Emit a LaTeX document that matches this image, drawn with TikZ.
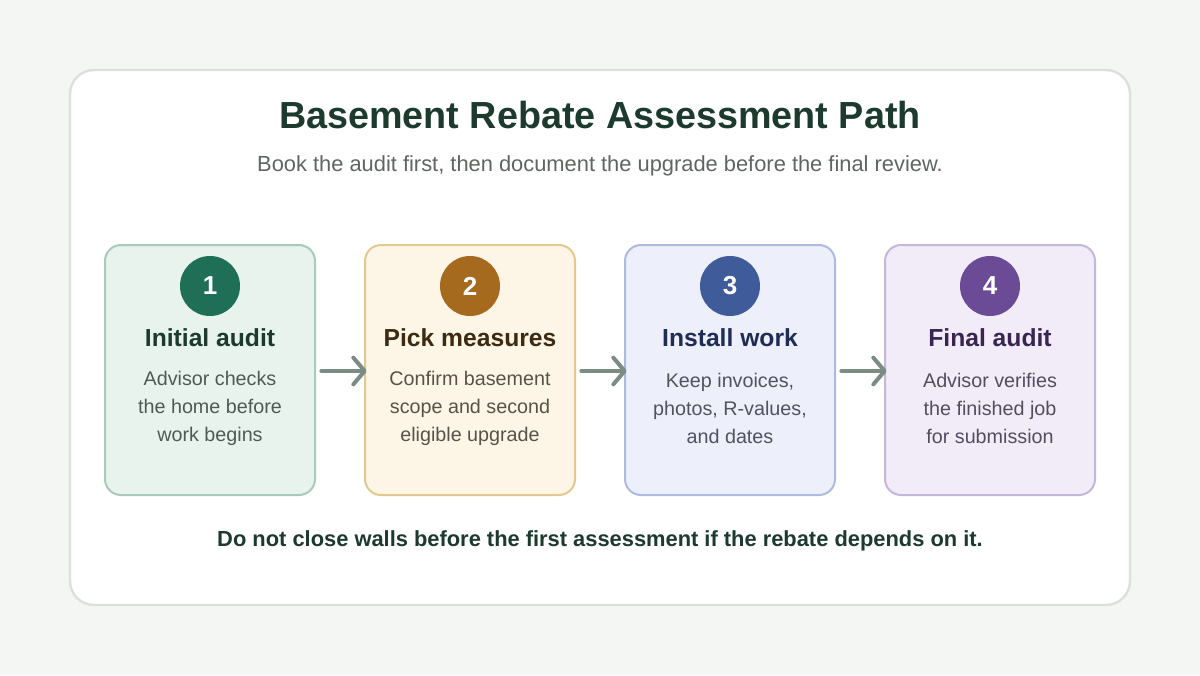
\documentclass[tikz,border=0pt]{standalone}
\usepackage{fontspec}
\setmainfont{Liberation Sans}
\usetikzlibrary{arrows.meta}
\definecolor{bgc}{HTML}{F4F6F3}
\definecolor{cardline}{HTML}{DCE0DA}
\definecolor{titlec}{HTML}{1D3A2F}
\definecolor{subc}{HTML}{5F6661}
\definecolor{arrc}{HTML}{7A8C84}
\definecolor{fA}{HTML}{E8F3EE}\definecolor{dA}{HTML}{A9C9BB}\definecolor{cA}{HTML}{1F6E56}\definecolor{tA}{HTML}{1D3A2F}\definecolor{xA}{HTML}{4F5A55}
\definecolor{fB}{HTML}{FDF5E6}\definecolor{dB}{HTML}{E3C98E}\definecolor{cB}{HTML}{A66A1E}\definecolor{tB}{HTML}{3D2A10}\definecolor{xB}{HTML}{5A5248}
\definecolor{fC}{HTML}{EDF0FA}\definecolor{dC}{HTML}{AEBBE0}\definecolor{cC}{HTML}{3F5B9A}\definecolor{tC}{HTML}{1F2D55}\definecolor{xC}{HTML}{4F5362}
\definecolor{fD}{HTML}{F2ECF8}\definecolor{dD}{HTML}{C5B6DB}\definecolor{cD}{HTML}{6B4A96}\definecolor{tD}{HTML}{3A2552}\definecolor{xD}{HTML}{544C60}
\tikzset{
  stepbox/.style={draw, line width=1.5pt, rounded corners=12pt, minimum width=157.5pt, minimum height=187.5pt, inner sep=0pt},
  numdot/.style={circle, minimum size=45pt, inner sep=0pt, text=white, font=\bfseries\fontsize{19.5}{22}\selectfont},
  steptitle/.style={font=\bfseries\fontsize{18.5}{21}\selectfont, inner sep=0pt},
  stepbody/.style={font=\fontsize{14.8}{21}\selectfont, align=center, inner sep=0pt},
  arr/.style={draw=arrc, line width=3pt, line cap=round, -{Straight Barb[length=8.5pt, width=20pt, line cap=round, line join=round]}, shorten <=4pt}
}
\begin{document}
\begin{tikzpicture}[x=0.75pt,y=-0.75pt]
\useasboundingbox (0,0) rectangle (1200,675);
\fill[bgc] (0,0) rectangle (1200,675);
\draw[cardline, fill=white, line width=1.8pt, rounded corners=18pt] (70,70) rectangle (1130,605);
\node[font=\bfseries\fontsize{28.3}{32}\selectfont, text=titlec, inner sep=0pt] (title) at (600,115) {Basement Rebate Assessment Path};
\node[font=\fontsize{16.4}{19}\selectfont, text=subc, inner sep=0pt] (sub) at (600,166) {Book the audit first, then document the upgrade before the final review.};

\node[stepbox, draw=dA, fill=fA] (b1) at (210,370) {};
\node[stepbox, draw=dB, fill=fB] (b2) at (470,370) {};
\node[stepbox, draw=dC, fill=fC] (b3) at (730,370) {};
\node[stepbox, draw=dD, fill=fD] (b4) at (990,370) {};

\node[numdot, fill=cA] (c1) at (210,286) {1};
\node[numdot, fill=cB] (c2) at (470,286) {2};
\node[numdot, fill=cC] (c3) at (730,286) {3};
\node[numdot, fill=cD] (c4) at (990,286) {4};

\node[steptitle, text=tA] (t1) at (210,338) {Initial audit};
\node[steptitle, text=tB] (t2) at (470,338) {Pick measures};
\node[steptitle, text=tC] (t3) at (730,338) {Install work};
\node[steptitle, text=tD] (t4) at (990,338) {Final audit};

\node[stepbody, text=xA] (d1) at (210,408) {Advisor checks\\the home before\\work begins};
\node[stepbody, text=xB] (d2) at (470,408) {Confirm basement\\scope and second\\eligible upgrade};
\node[stepbody, text=xC] (d3) at (730,408) {Keep invoices,\\photos, R-values,\\and dates};
\node[stepbody, text=xD] (d4) at (990,408) {Advisor verifies\\the finished job\\for submission};

\draw[arr] (b1.east |- 0,371) -- ([xshift=2pt]b2.west |- 0,371);
\draw[arr] (b2.east |- 0,371) -- ([xshift=2pt]b3.west |- 0,371);
\draw[arr] (b3.east |- 0,371) -- ([xshift=2pt]b4.west |- 0,371);

\node[font=\bfseries\fontsize{16.4}{19}\selectfont, text=titlec, inner sep=0pt] (foot) at (600,541) {Do not close walls before the first assessment if the rebate depends on it.};
\end{tikzpicture}
\end{document}
